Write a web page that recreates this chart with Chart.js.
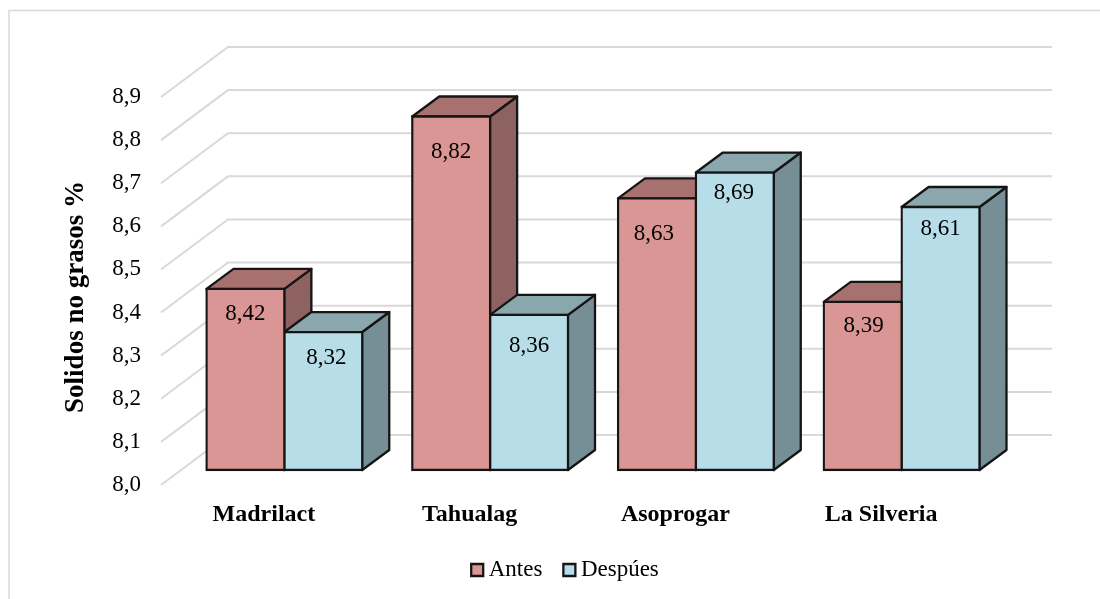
<!DOCTYPE html>
<html>
<head>
<meta charset="utf-8">
<title>Solidos no grasos</title>
<script src="https://cdn.jsdelivr.net/npm/chart.js@4"></script>
<style>
  html, body { margin: 0; padding: 0; background: #fff; }
  canvas { display: block; }
</style>
</head>
<body>
<canvas id="solidos" width="1100" height="599"></canvas>
<script>
// Data
const categories = ['Madrilact', 'Tahualag', 'Asoprogar', 'La Silveria'];
const antes = [8.42, 8.82, 8.63, 8.39];
const despues = [8.32, 8.36, 8.69, 8.61];
const yTickLabels = ['8,0', '8,1', '8,2', '8,3', '8,4', '8,5', '8,6', '8,7', '8,8', '8,9'];
const yTitle = 'Solidos no grasos %';

// Look of the fake 3D boxes
const serif = '"Liberation Serif", "Times New Roman", serif';
const fontSize = 23;
const outline = '#151515';
const edge = 2.3;
const faces = [
  { front: '#D99694', top: '#A6716F', side: '#8E6260' },
  { front: '#B7DEE8', top: '#8AA7AE', side: '#768F96' }
];
const wallShift = { x: 67, y: -50 };   // front of the floor to the back wall
const barShift = { x: 20.5, y: -15 };  // front of the floor to the bars
const barDepth = { x: 27, y: -20 };
// where each value sits: under the top of its bar, and sideways from the middle
const labelDrop = [[25.5, 35, 35.5, 24.5], [25.5, 31.5, 20, 21.5]];
const labelNudge = [[0, 0, -3, 1], [3, 0, -1, 0]];

function face(ctx, points, fill) {
  ctx.beginPath();
  points.forEach((p, i) => i ? ctx.lineTo(p[0], p[1]) : ctx.moveTo(p[0], p[1]));
  ctx.closePath();
  ctx.fillStyle = fill;
  ctx.fill();
  ctx.stroke();
}

const box3d = {
  id: 'box3d',
  beforeDraw(chart) {
    const ctx = chart.ctx;
    // frame of the pasted picture, cropped on the right and at the bottom
    ctx.save();
    ctx.strokeStyle = '#D9D9D9';
    ctx.lineWidth = 1.5;
    ctx.beginPath();
    ctx.moveTo(9, 599);
    ctx.lineTo(9, 10.5);
    ctx.lineTo(1100, 10.5);
    ctx.stroke();
    ctx.restore();
  },
  afterLayout(chart) {
    // legend is not centred on the canvas
    const legend = chart.legend;
    const h = legend.height;
    legend.left = 0;
    legend.right = 1136;
    legend.top = 531.5;
    legend.bottom = legend.top + h;
  },
  beforeDatasetsDraw(chart) {
    const ctx = chart.ctx;
    const y = chart.scales.y;
    const left = chart.chartArea.left;
    const right = chart.chartArea.right;

    // floor diagonals and back wall lines
    ctx.save();
    ctx.strokeStyle = '#D9D9D9';
    ctx.lineWidth = 2;
    y.ticks.forEach(t => {
      const py = y.getPixelForValue(t.value);
      ctx.beginPath();
      ctx.moveTo(left, py);
      ctx.lineTo(left + wallShift.x, py + wallShift.y);
      ctx.lineTo(right + wallShift.x + 1, py + wallShift.y);
      ctx.stroke();
    });
    ctx.restore();

    // the bars stand behind the front of the floor, restored in afterDatasetsDraw
    ctx.save();
    ctx.translate(barShift.x, barShift.y);
    ctx.strokeStyle = outline;
    ctx.lineWidth = edge;
    ctx.lineJoin = 'round';
    [0, 1].forEach(d => {
      chart.getDatasetMeta(d).data.forEach(bar => {
        const l = bar.x - bar.width / 2;
        const r = bar.x + bar.width / 2;
        const t = bar.y;
        const b = bar.base;
        face(ctx, [[r, t], [r + barDepth.x, t + barDepth.y], [r + barDepth.x, b + barDepth.y], [r, b]], faces[d].side);
        face(ctx, [[l, t], [l + barDepth.x, t + barDepth.y], [r + barDepth.x, t + barDepth.y], [r, t]], faces[d].top);
      });
    });
  },
  afterDatasetsDraw(chart) {
    const ctx = chart.ctx;
    ctx.font = fontSize + 'px ' + serif;
    ctx.fillStyle = '#000';
    ctx.textAlign = 'center';
    ctx.textBaseline = 'middle';
    [0, 1].forEach(d => {
      const values = chart.data.datasets[d].data;
      chart.getDatasetMeta(d).data.forEach((bar, i) => {
        ctx.fillText(values[i].toFixed(2).replace('.', ','), bar.x + labelNudge[d][i], bar.y + labelDrop[d][i]);
      });
    });
    ctx.restore();

    // axis title sits a little below the middle of the axis
    ctx.save();
    ctx.translate(76, 297);
    ctx.rotate(-Math.PI / 2);
    ctx.font = 'bold 27px ' + serif;
    ctx.fillStyle = '#000';
    ctx.textAlign = 'center';
    ctx.textBaseline = 'middle';
    ctx.fillText(yTitle, 0, 0);
    ctx.restore();
  }
};

new Chart(document.getElementById('solidos'), {
  type: 'bar',
  data: {
    labels: categories,
    datasets: [
      { label: 'Antes', data: antes, backgroundColor: faces[0].front, clip: 3 },
      { label: 'Despúes', data: despues, backgroundColor: faces[1].front, clip: 3 }
    ]
  },
  plugins: [box3d],
  options: {
    responsive: false,
    animation: false,
    maintainAspectRatio: false,
    layout: { padding: { top: 97, right: 116, left: 0, bottom: 0 } },
    datasets: {
      bar: {
        base: 8,
        borderColor: outline,
        borderWidth: edge,
        borderSkipped: false,
        inflateAmount: edge / 2,
        categoryPercentage: 0.757,
        barPercentage: 1
      }
    },
    plugins: {
      tooltip: { enabled: false },
      legend: {
        position: 'bottom',
        labels: {
          color: '#000',
          font: { family: serif, size: fontSize },
          usePointStyle: true,
          pointStyle: 'rect',
          boxWidth: 0.01,
          boxHeight: 12,
          padding: 27
        }
      }
    },
    scales: {
      x: {
        grid: { display: false },
        border: { display: false },
        ticks: {
          color: '#000',
          font: { family: serif, size: 24, weight: 'bold' },
          padding: 7,
          maxRotation: 0
        },
        afterFit(scale) { scale.height = 114 - scale.chart.legend.height; }
      },
      y: {
        min: 8,
        max: 8.9,
        grid: { display: false },
        border: { display: false },
        ticks: {
          stepSize: 0.1,
          color: '#000',
          font: { family: serif, size: fontSize },
          padding: 12,
          callback: (value, index) => yTickLabels[index]
        },
        afterFit(scale) { scale.width = 161; }
      }
    }
  }
});
</script>
</body>
</html>
